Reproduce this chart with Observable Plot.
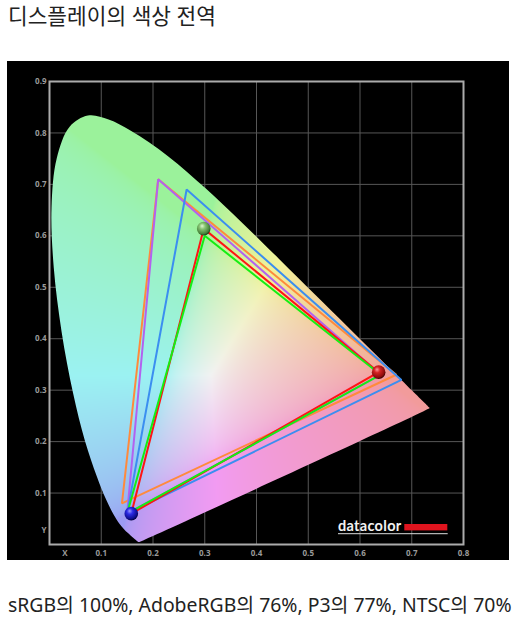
<!DOCTYPE html>
<html><head><meta charset="utf-8">
<script src="https://cdn.jsdelivr.net/npm/d3@7"></script>
<script src="https://cdn.jsdelivr.net/npm/@observablehq/plot@0.6"></script>
<style>
html,body{margin:0;padding:0;background:#fff;}
body{width:521px;height:625px;overflow:hidden;position:relative;font-family:"Noto Sans","Noto Sans CJK KR",sans-serif;}
#title{position:absolute;left:8px;top:1px;font-size:21.4px;line-height:30px;color:#222;white-space:nowrap;}
#chart{position:absolute;left:7px;top:61px;line-height:0;}
#caption{position:absolute;left:8px;top:590px;font-size:19.4px;line-height:30px;color:#222;white-space:nowrap;}
</style></head>
<body>
<div id="title"></div>
<div id="chart"></div>
<div id="caption"></div>
<script>
const titleText = "디스플레이의 색상 전역";
const captionText = "sRGB의 100%, AdobeRGB의 76%, P3의 77%, NTSC의 70%";

// CIE 1931 spectral locus (380–700 nm, 5 nm)
const locusX = [0.1741,0.1740,0.1738,0.1736,0.1733,0.1730,0.1726,0.1721,0.1714,0.1703,0.1689,0.1669,0.1644,0.1611,0.1566,0.1510,0.1440,0.1355,0.1241,0.1096,0.0913,0.0687,0.0454,0.0235,0.0082,0.0039,0.0139,0.0389,0.0743,0.1142,0.1547,0.1929,0.2296,0.2658,0.3016,0.3373,0.3731,0.4087,0.4441,0.4788,0.5125,0.5448,0.5752,0.6029,0.6270,0.6482,0.6658,0.6801,0.6915,0.7006,0.7079,0.7140,0.7190,0.7230,0.7260,0.7283,0.7300,0.7311,0.7320,0.7327,0.7334,0.7340,0.7344,0.7346,0.7347];
const locusY = [0.0050,0.0050,0.0049,0.0049,0.0048,0.0048,0.0048,0.0048,0.0051,0.0058,0.0069,0.0086,0.0109,0.0138,0.0177,0.0227,0.0297,0.0399,0.0578,0.0868,0.1327,0.2007,0.2950,0.4127,0.5384,0.6548,0.7502,0.8120,0.8338,0.8262,0.8059,0.7816,0.7543,0.7243,0.6923,0.6589,0.6245,0.5896,0.5547,0.5202,0.4866,0.4544,0.4242,0.3965,0.3725,0.3514,0.3340,0.3197,0.3083,0.2993,0.2920,0.2859,0.2809,0.2770,0.2740,0.2717,0.2700,0.2689,0.2680,0.2673,0.2666,0.2660,0.2656,0.2654,0.2653];

// Gamut triangles (R, G, B primaries)
const ntscX = [0.67, 0.21, 0.14],  ntscY = [0.33, 0.71, 0.08];
const adobeX = [0.64, 0.21, 0.15], adobeY = [0.33, 0.71, 0.06];
const p3X = [0.68, 0.265, 0.15],   p3Y = [0.32, 0.69, 0.06];
const displayX = [0.636, 0.298, 0.158], displayY = [0.335, 0.614, 0.060];
const srgbX = [0.64, 0.30, 0.15],  srgbY = [0.33, 0.60, 0.06];
const primaryNames = ["red", "green", "blue"];

const xTicks = [0.1, 0.2, 0.3, 0.4, 0.5, 0.6, 0.7, 0.8];
const yTicks = [0.1, 0.2, 0.3, 0.4, 0.5, 0.6, 0.7, 0.8, 0.9];
const axisLetterX = [{label: "X", x: 0.03}];
const axisLetterY = [{label: "Y", y: 0.028}];
const logoText = "datacolor";

document.getElementById("title").textContent = titleText;
document.getElementById("caption").textContent = captionText;

const locusRows = locusX.map((x, i) => ({x, y: locusY[i]}));
const tri = (xs, ys) => xs.map((x, i) => ({x, y: ys[i]}));
const balls = displayX.map((x, i) => ({x, y: displayY[i], name: primaryNames[i], fill: `url(#ball-${primaryNames[i]})`}));

const W = 0.64, S = 0.95;
const enc = c => c <= 0.0031308 ? 12.92 * c : 1.055 * Math.pow(c, 1 / 2.4) - 0.055;
function gamutColor(x, y) {
  if (y < 0.001 || x < 0 || x + y > 1.02) return null;
  const X = x / y, Z = Math.max(0, (1 - x - y) / y);
  let r = Math.max(0, 3.2406 * X - 1.5372 - 0.4986 * Z);
  let g = Math.max(0, -0.9689 * X + 1.8758 + 0.0415 * Z);
  let b = Math.max(0, 0.0557 * X - 0.2040 + 1.0570 * Z);
  const m = Math.max(r, g, b) || 1;
  const f = c => Math.round(255 * S * (W + (1 - W) * enc(c / m)));
  return `rgb(${f(r)},${f(g)},${f(b)})`;
}

const width = 502, height = 499, mL = 42, mR = 46, mT = 20, mB = 16;
const svg = Plot.plot({
  width, height,
  marginLeft: mL, marginRight: mR, marginTop: mT, marginBottom: mB,
  x: {domain: [0, 0.8]},
  y: {domain: [0, 0.9]},
  color: {type: "identity"},
  style: {background: "#000", color: "#9a9a9a", fontSize: "8px", fontWeight: "bold", fontFamily: "'Open Sans', sans-serif"},
  marks: [
    Plot.gridX(xTicks, {stroke: "#575757", strokeOpacity: 1, strokeWidth: 1}),
    Plot.gridY(yTicks, {stroke: "#575757", strokeOpacity: 1, strokeWidth: 1}),
    Plot.raster(null, {x1: 0, x2: 0.8, y1: 0, y2: 0.9, fill: gamutColor, pixelSize: 0.5, ariaLabel: "gamut-raster"}),
    Plot.line(tri(ntscX, ntscY), {x: "x", y: "y", curve: "linear-closed", stroke: "#ff8a3c", strokeWidth: 2, strokeLinejoin: "miter"}),
    Plot.line(tri(adobeX, adobeY), {x: "x", y: "y", curve: "linear-closed", stroke: "#b262f0", strokeWidth: 2, strokeLinejoin: "miter"}),
    Plot.line(tri(p3X, p3Y), {x: "x", y: "y", curve: "linear-closed", stroke: "#3b8ef0", strokeWidth: 2, strokeLinejoin: "miter"}),
    Plot.line(tri(displayX, displayY), {x: "x", y: "y", curve: "linear-closed", stroke: "#ff1414", strokeWidth: 2, strokeLinejoin: "miter"}),
    Plot.line(tri(srgbX, srgbY), {x: "x", y: "y", curve: "linear-closed", stroke: "#14ee14", strokeWidth: 2, strokeLinejoin: "miter"}),
    Plot.dot(balls, {x: "x", y: "y", r: 6.8, fill: "fill", stroke: "none"}),
    Plot.frame({stroke: "#ababab", strokeWidth: 2}),
    Plot.axisX(xTicks, {tickSize: 0, tickPadding: 6, tickFormat: d => d.toFixed(1), label: null}),
    Plot.axisY(yTicks, {tickSize: 0, tickPadding: 3, tickFormat: d => d.toFixed(1), label: null}),
    Plot.text(axisLetterX, {x: "x", text: "label", frameAnchor: "bottom", dy: 6, lineAnchor: "top"}),
    Plot.text(axisLetterY, {y: "y", text: "label", frameAnchor: "left", dx: -3, textAnchor: "end"})
  ]
});

const s = d3.select(svg);
const defs = s.insert("defs", ":first-child");

// clip the raster to a smooth spectral-locus outline, using Plot's own scales
try {
  const sx = svg.scale("x"), sy = svg.scale("y");
  const X = sx.apply ? (v => sx.apply(v)) : d3.scaleLinear(sx.domain, sx.range);
  const Y = sy.apply ? (v => sy.apply(v)) : d3.scaleLinear(sy.domain, sy.range);
  const d = d3.line().x(p => X(p.x)).y(p => Y(p.y)).curve(d3.curveCatmullRomClosed)(locusRows);
  defs.append("clipPath").attr("id", "locus-clip").attr("clipPathUnits", "userSpaceOnUse").append("path").attr("d", d);
  const img = svg.querySelector("image");
  const wrap = document.createElementNS("http://www.w3.org/2000/svg", "g");
  wrap.setAttribute("clip-path", "url(#locus-clip)");
  img.parentNode.insertBefore(wrap, img);
  wrap.appendChild(img);
} catch (e) { console.error(e); }

// sphere gradients for the primaries
const grads = {
  red: ["#ff9a9a", "#d52424", "#8a0c0c", "#3a0000"],
  green: ["#e0f8d0", "#86c472", "#447e38", "#1c3a16"],
  blue: ["#9a9aff", "#2c2ce6", "#0c0c8a", "#00003a"]
};
for (const [k, c] of Object.entries(grads)) {
  const g = defs.append("radialGradient").attr("id", `ball-${k}`).attr("cx", 0.42).attr("cy", 0.38).attr("r", 0.62).attr("fx", 0.38).attr("fy", 0.3);
  [[0, c[0]], [0.35, c[1]], [0.85, c[2]], [1, c[3]]].forEach(([o, col]) => g.append("stop").attr("offset", o).attr("stop-color", col));
}

// datacolor logo (bottom-right of frame)
const fr = width - mR, fb = height - mB;
const logo = s.append("g");
logo.append("text").attr("x", fr - 61.5).attr("y", fb - 13.5).attr("text-anchor", "end")
  .attr("fill", "#f2f2f2").attr("font-size", 14.5).attr("font-weight", "bold")
  .attr("font-family", "Lato, 'Open Sans', sans-serif").attr("letter-spacing", "0.3").text(logoText);
logo.append("rect").attr("x", fr - 58.7).attr("y", fb - 20).attr("width", 43).attr("height", 6.4).attr("fill", "#e0141e");
logo.append("line").attr("x1", fr - 125).attr("x2", fr - 15.3).attr("y1", fb - 10.3).attr("y2", fb - 10.3).attr("stroke", "#dcdcdc").attr("stroke-width", 1);

document.getElementById("chart").appendChild(svg);
</script>
</body></html>
